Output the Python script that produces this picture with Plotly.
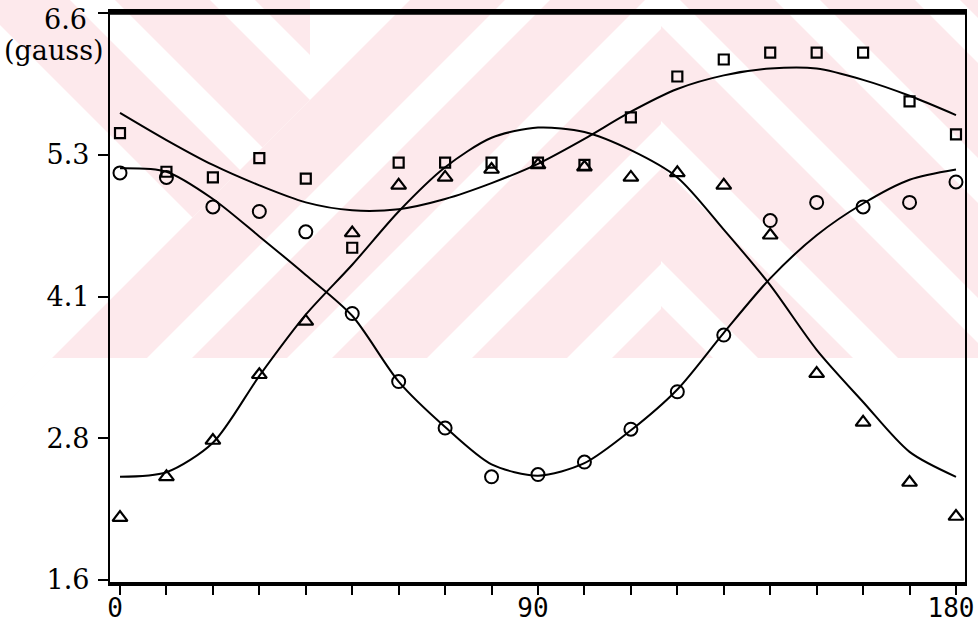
import plotly.graph_objects as go

# Orientation angle (degrees)
angle = [0, 10, 20, 30, 40, 50, 60, 70, 80, 90, 100, 110, 120, 130, 140, 150, 160, 170, 180]

# Measured field components (gauss)
field_square = [5.54, 5.20, 5.15, 5.32, 5.14, 4.53, 5.28, 5.28, 5.28, 5.28, 5.26, 5.68,
                6.04, 6.19, 6.25, 6.25, 6.25, 5.82, 5.53]
field_circle = [5.19, 5.15, 4.89, 4.85, 4.67, 3.95, 3.35, 2.94, 2.51, 2.53, 2.64, 2.93,
                3.26, 3.76, 4.77, 4.93, 4.89, 4.93, 5.11]
field_triangle = [2.15, 2.51, 2.83, 3.41, 3.88, 4.66, 5.08, 5.15, 5.22, 5.26, 5.24, 5.15,
                  5.19, 5.08, 4.64, 3.42, 2.99, 2.46, 2.16]

# Fitted curves, sampled every 10 degrees
fit_square = [5.72, 5.48, 5.26, 5.08, 4.93, 4.86, 4.87, 4.96, 5.10, 5.27, 5.49, 5.73,
              5.93, 6.05, 6.11, 6.11, 6.01, 5.87, 5.70]
fit_circle = [5.23, 5.20, 4.96, 4.63, 4.29, 3.93, 3.35, 2.95, 2.62, 2.52, 2.63, 2.92,
              3.28, 3.78, 4.26, 4.64, 4.92, 5.13, 5.22]
fit_triangle = [2.51, 2.55, 2.81, 3.40, 3.94, 4.38, 4.85, 5.24, 5.50, 5.59, 5.55, 5.39,
                5.15, 4.69, 4.20, 3.63, 3.17, 2.73, 2.51]

# Axis ticks (labels are rounded down in the original plot)
y_tickvals = [1.6, 2.85, 4.1, 5.35, 6.6]
y_ticktext = ["1.6", "2.8", "4.1", "5.3", "6.6"]
x_tickvals = list(range(0, 181, 10))
x_ticktext = ["0" if v == 0 else "90" if v == 90 else "180" if v == 180 else "" for v in x_tickvals]

W, H = 978, 626
ML, MR, MT, MB = 110, 13, 13, 44
PW, PH = W - ML - MR, H - MT - MB

fig = go.Figure()

line_style = dict(color="black", width=2, shape="spline", smoothing=0.8)
for fit in (fit_square, fit_circle, fit_triangle):
    fig.add_trace(go.Scatter(x=angle, y=fit, mode="lines", line=line_style,
                             hoverinfo="skip", showlegend=False))

fig.add_trace(go.Scatter(x=angle, y=field_square, mode="markers", showlegend=False,
                         marker=dict(symbol="square-open", size=10, color="black",
                                     line=dict(width=2.2, color="black"))))
fig.add_trace(go.Scatter(x=angle, y=field_circle, mode="markers", showlegend=False,
                         marker=dict(symbol="circle-open", size=13, color="black",
                                     line=dict(width=2, color="black"))))
fig.add_trace(go.Scatter(x=angle, y=field_triangle, mode="markers", showlegend=False,
                         marker=dict(symbol="triangle-up-open", size=13, color="black",
                                     line=dict(width=2.2, color="black"))))


# ---- pale striped background logo (pixel geometry -> paper coords) ----
def clip(poly, a, b, c):
    """Keep the part of a polygon where a*x + b*y <= c."""
    out = []
    n = len(poly)
    for i in range(n):
        p, q = poly[i], poly[(i + 1) % n]
        fp = a * p[0] + b * p[1] - c
        fq = a * q[0] + b * q[1] - c
        if fp <= 0:
            out.append(p)
        if fp * fq < 0:
            t = fp / (fp - fq)
            out.append((p[0] + t * (q[0] - p[0]), p[1] + t * (q[1] - p[1])))
    return out


def px_x(x):
    return (x - ML) / PW


def px_y(y):
    return (MT + PH - y) / PH


def to_path(poly):
    return "M " + " L ".join(f"{px_x(x):.5f},{px_y(y):.5f}" for x, y in poly) + " Z"


PINK = "#fde9ec"
BOTTOM = 358
period = 140
# each zone: convex polygon, stripe sign (s = x + sgn*y), list of pink [lo, hi] bands
zones = [
    # upper-left: falling stripes, bounded below by the first rising band
    ([(0, 0), (310, 0), (310, 100), (0, 410)], -1,
     [(-25, 70), (115, 210), (255, 350)]),
    # centre and lower-left: rising stripes
    ([(0, 410), (310, 100), (310, 0), (661, 0), (661, BOTTOM), (0, BOTTOM)], +1,
     [(410 + k * period, 505 + k * period) for k in range(0, 6)]),
    # right: falling stripes
    ([(661, 0), (978, 0), (978, BOTTOM), (661, BOTTOM)], -1,
     [(260 + k * period, 355 + k * period) for k in range(0, 6)]),
]
shapes = []
for base, sgn, bands in zones:
    for lo, hi in bands:
        poly = clip(base, -1, -sgn, -lo)      # x + sgn*y >= lo
        if len(poly) < 3:
            continue
        poly = clip(poly, 1, sgn, hi)         # x + sgn*y <= hi
        if len(poly) < 3:
            continue
        shapes.append(dict(type="path", path=to_path(poly), xref="paper", yref="paper",
                           fillcolor=PINK, line=dict(width=0), layer="below"))

# heavy top edge of the frame
shapes.append(dict(type="line", xref="paper", yref="paper", x0=-0.001, x1=1.001, y0=1, y1=1,
                   line=dict(color="black", width=3.5), layer="above"))

fig.update_layout(shapes=shapes)

# the top tick label sits a little below its tick, with the unit beneath it
axis_font = dict(family="DejaVu Serif", size=27, color="black")
fig.add_annotation(text=y_ticktext[-1], xref="paper", yref="paper",
                   x=px_x(89), y=px_y(19), xanchor="right", yanchor="middle",
                   showarrow=False, font=axis_font)
fig.add_annotation(text="(gauss)", xref="paper", yref="paper",
                   x=px_x(106), y=px_y(51), xanchor="right", yanchor="middle",
                   showarrow=False, font=axis_font)

fig.update_xaxes(range=[-2.153, 181.94], tickvals=x_tickvals, ticktext=x_ticktext,
                 ticks="outside", ticklen=9, tickwidth=2, tickcolor="black",
                 showline=True, linecolor="black", linewidth=3.5, mirror=True,
                 showgrid=False, zeroline=False, ticklabelshift=-5, ticklabelstandoff=-9,
                 ticklabeloverflow="allow",
                 tickfont=dict(family="DejaVu Sans Mono", size=26, color="black"))
fig.update_yaxes(range=[1.5824, 6.6], tickvals=y_tickvals,
                 ticktext=y_ticktext[:-1] + [""],
                 ticks="outside", ticklen=10, tickwidth=2, tickcolor="black",
                 showline=True, linecolor="black", linewidth=2.2, mirror=True,
                 showgrid=False, zeroline=False, ticklabelstandoff=3,
                 ticklabeloverflow="allow", tickfont=axis_font)

fig.update_layout(width=W, height=H, margin=dict(l=ML, r=MR, t=MT, b=MB, autoexpand=False),
                  paper_bgcolor="white", plot_bgcolor="rgba(0,0,0,0)",
                  showlegend=False)

fig.write_html("out.html")
